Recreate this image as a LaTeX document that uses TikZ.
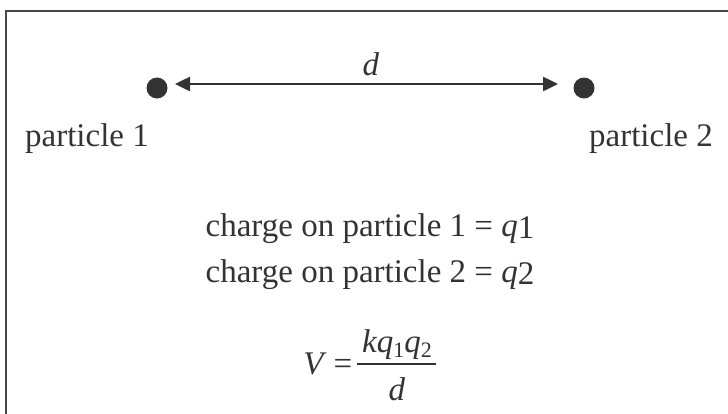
\documentclass[tikz,border=0pt]{standalone}
\usepackage{fontspec}
\setmainfont{Liberation Serif}
\usetikzlibrary{arrows.meta}
\definecolor{ink}{HTML}{333333}
\begin{document}
\begin{tikzpicture}[x=1pt,y=-1pt,
  txt/.style={font=\fontsize{33}{38}\selectfont, text=ink, inner sep=0pt, anchor=base},
  dot/.style={circle, fill=ink, minimum size=21pt, inner sep=0pt},
  dim/.style={draw=ink, line width=2.5pt, {Triangle[length=15pt,width=14pt]}-{Triangle[length=15pt,width=14pt]}}]
\useasboundingbox (0,0) rectangle (728,413);
\begin{scope}
\clip (0,0) rectangle (728,413);
\draw[draw=ink!90, line width=2.2pt] (6,11) rectangle (740,430);
\end{scope}
\node[dot] (p1) at (157,88) {};
\node[dot] (p2) at (584,88) {};
\coordinate (a1) at (175,84);
\coordinate (a2) at (558,84);
\draw[dim] (a1) -- (a2);
\node[txt] (d) at (371,75) {\textit{d}};
\node[txt] (l1) at (87,146) {particle 1};
\node[txt] (l2) at (651,146) {particle 2};
\node[txt] (c1) at (370,236) {charge on particle 1 = \textit{q}\raisebox{-2pt}{1}};
\node[txt] (c2) at (370,282) {charge on particle 2 = \textit{q}\raisebox{-2pt}{2}};
\node[txt, anchor=base east] (V) at (327,374) {\textit{V}};
\node[txt] (eq) at (343,374) {=};
\node[txt] (num) at (397,352) {\textit{kq}\raisebox{-5pt}{\fontsize{22}{24}\selectfont 1}\textit{q}\raisebox{-5pt}{\fontsize{22}{24}\selectfont 2}};
\node[txt] (den) at (397,400) {\textit{d}};
\coordinate (b1) at (357,364);
\coordinate (b2) at (436,364);
\draw[draw=ink, line width=1.3pt] (b1) -- (b2);
\end{tikzpicture}
\end{document}
